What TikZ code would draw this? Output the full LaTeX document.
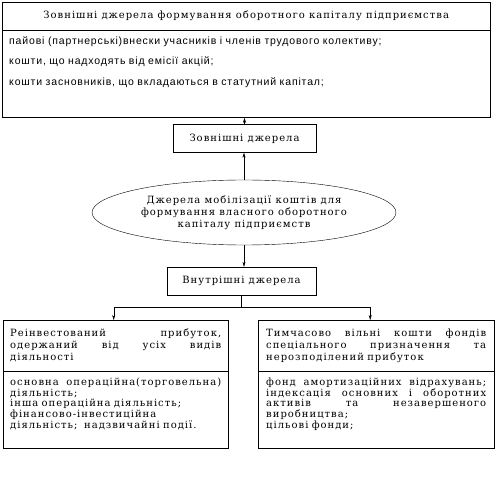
\documentclass[tikz,border=0pt]{standalone}
\usepackage{fontspec}
\setmainfont{DejaVu Serif}[LetterSpace=10]
\newfontfamily\listfont{Liberation Sans}[LetterSpace=8]
\usetikzlibrary{shapes.geometric, arrows.meta, positioning}
\newcommand{\spread}[1]{\makebox[\linewidth]{#1}}

\begin{document}
\begin{tikzpicture}[
    x=1pt, y=-1pt,
    thin,
    font=\fontsize{10}{12}\selectfont,
    box/.style={draw, rectangle, inner xsep=7pt, inner ysep=0pt},
    srcbox/.style={box, minimum height=28pt, align=center},
    listbox/.style={box, align=left, font=\fontsize{10}{10.8}\selectfont},
    oval/.style={draw, ellipse, minimum width=304pt, minimum height=65pt, align=center, inner sep=0pt},
    arr/.style={-{Stealth[length=5pt, width=3pt]}}
]
\useasboundingbox (0,0) rectangle (496,494);

% Nodes
\node (exthead) [box, anchor=north west, minimum width=488pt, minimum height=28pt] at (2,2) {Зовнішні джерела формування оборотного капіталу підприємства};
\node (extlist) [box, below=0pt of exthead, text width=474pt, minimum height=87pt, align=left, font=\listfont\fontsize{10.5}{20.5}\selectfont] {пайові (партнерські)внески учасників і членів трудового колективу;\\ кошти, що надходять від емісії акцій;\\ кошти засновників, що вкладаються в статутний капітал;\\ \strut};
\node (extsrc) [srcbox, minimum width=143pt] at (244.5,138.5) {Зовнішні джерела};
\node (mobil) [oval] at (244,212.5) {Джерела мобілізації коштів для\\ формування власного оборотного\\ капіталу підприємств};
\node (intsrc) [srcbox, minimum width=149pt] at (241.5,281) {Внутрішні джерела};

\node (reinv) [box, anchor=north west, text width=211pt, minimum height=51pt, align=left] at (3,320) {\spread{Реінвестований\hfill прибуток,}\\ \spread{одержаний\hfill від\hfill усіх\hfill видів}\\ діяльності};
\node (reinvlist) [listbox, below=0pt of reinv, text width=211pt, minimum height=77pt] {\spread{основна\hfill операційна(торговельна)}\\ діяльність;\\ інша операційна діяльність;\\ фінансово-інвестиційна\\ діяльність; \ надзвичайні події.\\ \strut};
\node (tempfund) [box, anchor=north west, inner xsep=8pt, text width=220pt, minimum height=51pt, align=left] at (258,320) {\spread{Тимчасово\hfill вільні\hfill кошти\hfill фондів}\\ \spread{спеціального\hfill призначення\hfill та}\\ нерозподілений прибуток};
\node (fundlist) [listbox, below=0pt of tempfund, inner xsep=8pt, text width=220pt, minimum height=77pt] {\spread{фонд\hfill амортизаційних\hfill відрахувань;}\\ \spread{індексація\hfill основних\hfill і\hfill оборотних}\\ \spread{активів\hfill та\hfill незавершеного}\\ виробництва;\\ цільові фонди;\\ \strut};

% Arrows
\draw[arr] (extsrc.north) -- (extsrc.north |- extlist.south);
\draw[arr] (mobil.north) -- (mobil.north |- extsrc.south);
\draw[arr] (mobil.south) -- (mobil.south |- intsrc.north);
\coordinate (fork) at (intsrc.south |- 0,307);
\draw (intsrc.south) -- (fork);
\draw[arr] (fork) -| ([xshift=-2pt]reinv.north);
\draw[arr] (fork) -| ([xshift=-6pt]tempfund.north);

\end{tikzpicture}
\end{document}
